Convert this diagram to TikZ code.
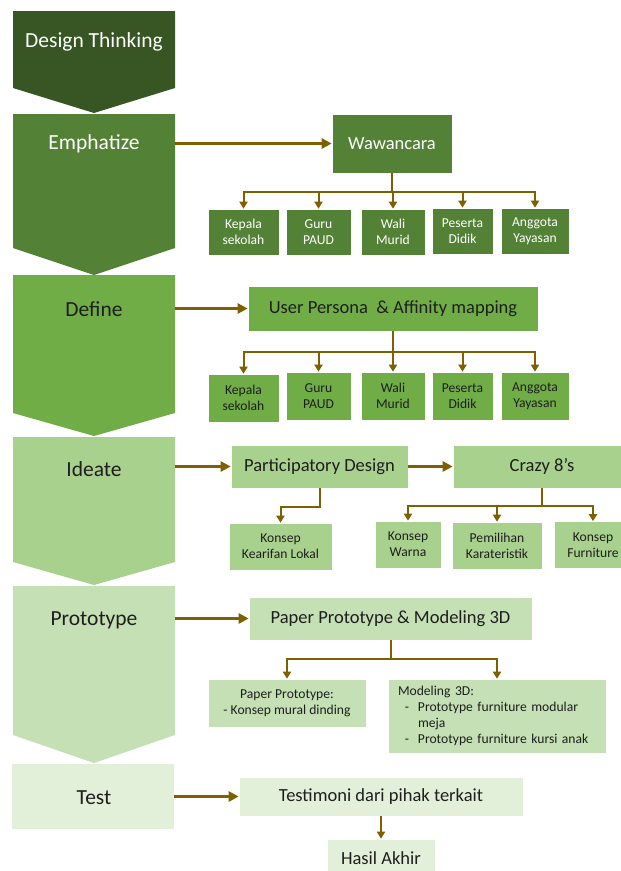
\documentclass[tikz,border=0pt]{standalone}
\usepackage{fontspec}
\setmainfont{Carlito}
\usetikzlibrary{arrows.meta}
\definecolor{cDT}{HTML}{375623}
\definecolor{cEm}{HTML}{538135}
\definecolor{cDf}{HTML}{70AD47}
\definecolor{cId}{HTML}{A9D18E}
\definecolor{cPr}{HTML}{C5E0B4}
\definecolor{cTs}{HTML}{E2F0D9}
\definecolor{cArr}{HTML}{7F6000}
\definecolor{cTxt}{HTML}{1E1E1E}
\tikzset{
  box/.style={draw=white, line width=0.6pt, inner sep=0pt, align=center, text=cTxt},
  bigtxt/.style={font=\fontsize{18.5}{22}\selectfont},
  smalltxt/.style={font=\fontsize{13.6}{16}\selectfont},
  titletxt/.style={font=\fontsize{21.5}{25}\selectfont},
  arr/.style={draw=cArr, line width=2.8pt, -{Triangle[length=10pt,width=10pt]}},
  br/.style={draw=cArr, line width=2pt, -{Triangle[length=7pt,width=8pt]}}
}
\begin{document}
\begin{tikzpicture}[x=1pt,y=-1pt]
\useasboundingbox (0,0) rectangle (621,871);
\fill[white] (0,0) rectangle (621,871);

% chevrons
\fill[cDT] (13,11) -- (175,11) -- (175,88) -- (94,113) -- (13,88) -- cycle;
\fill[cEm] (13,114) -- (175,114) -- (175,248) -- (94,275) -- (13,248) -- cycle;
\fill[cDf] (13,275) -- (175,275) -- (175,413) -- (94,436) -- (13,413) -- cycle;
\fill[cId] (13,437) -- (175,437) -- (175,562) -- (94,585) -- (13,562) -- cycle;
\fill[cPr] (13,586) -- (175,586) -- (175,735) -- (94,763) -- (13,735) -- cycle;
\fill[cTs] (12,764) rectangle (174,829);

\node[titletxt, text=white] (lDT) at (94,42) {Design Thinking};
\node[titletxt, text=white] (lEm) at (94,144) {Emphatize};
\node[titletxt, text=cTxt] (lDf) at (94,309) {Define};
\node[titletxt, text=cTxt] (lId) at (94,469) {Ideate};
\node[titletxt, text=cTxt] (lPr) at (94,620) {Prototype};
\node[titletxt, text=cTxt] (lTs) at (94,798) {Test};

\coordinate (emR) at (175,143.5);
\coordinate (dfR) at (175,308.5);
\coordinate (idR) at (175,466.5);
\coordinate (prR) at (175,618.5);
\coordinate (tsR) at (174,796.5);

% Emphatize row
\node[box, bigtxt, fill=cEm, text=white, minimum width=120, minimum height=59] (waw) at (392,143.5) {Wawancara};
\begin{scope}[every node/.style={box, smalltxt, fill=cEm, text=white, minimum height=46}]
\node[minimum width=71] (e1) at (243.5,232) {Kepala\\sekolah};
\node[minimum width=65] (e2) at (318.5,232) {Guru\\PAUD};
\node[minimum width=64] (e3) at (393,232) {Wali\\Murid};
\node[minimum width=61] (e4) at (462.5,231) {Peserta\\Didik};
\node[minimum width=68] (e5) at (535,231) {Anggota\\Yayasan};
\end{scope}
\draw[arr] (emR) -- (waw.west);
\foreach \c in {e1,e2,e3,e4,e5}{\draw[br] (waw.south) -- ++(0,19) -| (\c.north);}

% Define row
\node[box, bigtxt, fill=cDf, minimum width=290, minimum height=45] (up) at (393,308.5) {User Persona~~\& Affinity mapping};
\begin{scope}[every node/.style={box, smalltxt, fill=cDf, minimum height=48}]
\node[minimum width=71] (d1) at (243.5,398) {Kepala\\sekolah};
\node[minimum width=65] (d2) at (318.5,396) {Guru\\PAUD};
\node[minimum width=64] (d3) at (393,396) {Wali\\Murid};
\node[minimum width=61] (d4) at (462.5,396) {Peserta\\Didik};
\node[minimum width=68] (d5) at (535,396) {Anggota\\Yayasan};
\end{scope}
\draw[arr] (dfR) -- (up.west);
\foreach \c in {d1,d2,d3,d4,d5}{\draw[br] (up.south) -- ++(0,21) -| (\c.north);}

% Ideate row
\node[box, bigtxt, fill=cId, minimum width=177, minimum height=43] (pd) at (319.5,466.5) {Participatory Design};
\node[box, bigtxt, fill=cId, minimum width=178, minimum height=43] (cz) at (542,466.5) {Crazy 8’s};
\begin{scope}[every node/.style={box, smalltxt, fill=cId, minimum height=47}]
\node[minimum width=103] (i0) at (280.5,546.5) {Konsep\\Kearifan Lokal};
\node[minimum width=66] (i1) at (408,544.5) {Konsep\\Warna};
\node[minimum width=90] (i2) at (497,545.5) {Pemilihan\\Karateristik};
\node[minimum width=78] (i3) at (593,545) {Konsep\\Furniture};
\end{scope}
\draw[arr] (idR) -- (pd.west);
\draw[arr] (pd.east) -- (cz.west);
\draw[br] (pd.south) -- ++(0,19) -| (i0.north);
\foreach \c in {i1,i2,i3}{\draw[br] (cz.south) -- ++(0,18) -| (\c.north);}

% Prototype row
\node[box, bigtxt, fill=cPr, minimum width=283, minimum height=43] (pm) at (390.5,618.5) {Paper Prototype \& Modeling 3D};
\node[box, smalltxt, fill=cPr, minimum width=158, minimum height=48] (pp) at (287,703) {Paper Prototype:\\- Konsep mural dinding};
\node[box, smalltxt, fill=cPr, text width=198, inner xsep=10pt, minimum height=74, align=left] (md) at (497,716)
  {Modeling 3D:\\\makebox[20pt][l]{\ \,-}Prototype furniture modular\\\hspace*{20pt}meja\\\makebox[20pt][l]{\ \,-}Prototype furniture kursi anak};
\draw[arr] (prR) -- (pm.west);
\foreach \c in {pp,md}{\draw[br] (pm.south) -- ++(0,19) -| (\c.north);}

% Test row
\node[box, bigtxt, fill=cTs, minimum width=284, minimum height=39] (ts) at (381,796.5) {Testimoni dari pihak terkait};
\node[box, bigtxt, fill=cTs, minimum width=108, minimum height=38] (ha) at (381,858) {Hasil Akhir};
\draw[arr] (tsR) -- (ts.west);
\draw[br] (ts.south) -- (ha.north);
\end{tikzpicture}
\end{document}
